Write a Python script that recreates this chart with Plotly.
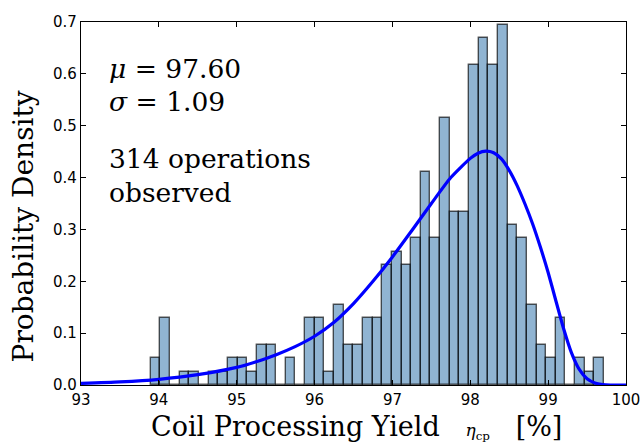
import plotly.graph_objects as go

# Histogram of coil processing yield (counts per bin, equal-width bins)
bin_start = 93.897
bin_width = 0.12385
counts = [2, 5, 0, 1, 1, 0, 1, 1, 2, 2, 1, 3, 3, 0, 2,
          0, 5, 5, 1, 6, 3, 3, 5, 5, 9, 10, 9, 11, 16, 11,
          20, 13, 13, 24, 26, 24, 27, 12, 11,
          6, 3, 2, 5, 0, 2, 1, 2]

# Summary statistics of the observed yields
mean_yield = 97.60
std_yield = 1.09

# Fitted density curve (yield %, probability density)
fit_x = [93.0, 93.5, 94.0, 94.5, 95.0, 95.25, 95.5, 95.75, 96.0, 96.25,
         96.5, 96.75, 97.0, 97.25, 97.5, 97.75, 98.0, 98.1, 98.2, 98.3,
         98.4, 98.5, 98.6, 98.7, 98.8, 98.9, 99.0, 99.1, 99.2, 99.3,
         99.4, 99.5, 99.6, 99.7, 99.8, 100.0]
fit_y = [0.003, 0.006, 0.011, 0.020, 0.034, 0.045, 0.058, 0.074, 0.094, 0.121,
         0.157, 0.200, 0.247, 0.298, 0.350, 0.400, 0.437, 0.447, 0.451, 0.448,
         0.436, 0.414, 0.385, 0.350, 0.311, 0.266, 0.217, 0.162, 0.108, 0.062,
         0.030, 0.012, 0.004, 0.001, 0.000, 0.000]

x_ticks = [93, 94, 95, 96, 97, 98, 99, 100]

n_obs = sum(counts)
centers = [bin_start + bin_width * (i + 0.5) for i in range(len(counts))]
density = [c / (n_obs * bin_width) for c in counts]

fig = go.Figure()
fig.add_trace(go.Bar(
    x=centers, y=density, width=bin_width,
    marker=dict(color="rgba(70,130,180,0.6)",
                line=dict(color="rgba(0,0,0,0.65)", width=1.4)),
    showlegend=False, hoverinfo="skip",
))
fig.add_trace(go.Scatter(
    x=fit_x, y=fit_y, mode="lines",
    line=dict(color="#0000ff", width=3.2, shape="spline", smoothing=0.6),
    showlegend=False,
))

serif = "DejaVu Serif"
ann_font = dict(family=serif, size=26.5, color="black")
lines = [
    (f"<i>μ</i> = {mean_yield:.2f}", 0.873),
    (f"<i>σ</i> = {std_yield:.2f}", 0.780),
    (f"{n_obs} operations", 0.625),
    ("observed", 0.529),
]
for text, yp in lines:
    fig.add_annotation(text=text, xref="paper", yref="paper", x=0.047, y=yp,
                       xanchor="left", yanchor="middle", showarrow=False,
                       font=ann_font)

# Axis titles
nb = "\u00a0"
fig.add_annotation(
    text=f"Coil Processing Yield{nb*3}<span style='font-size:17px'><i>η</i><sub>cp</sub></span>{nb*3}[%]",
    xref="paper", yref="paper", x=0.5046, y=-0.117, borderpad=0,
    xanchor="center", yanchor="middle", showarrow=False,
    font=dict(family=serif, size=27, color="black"))
fig.add_annotation(
    text="Probability Density", textangle=-90,
    xref="paper", yref="paper", x=-0.1064, y=0.437, borderpad=0,
    xanchor="center", yanchor="middle", showarrow=False,
    font=dict(family=serif, size=28, color="black"))

axis_common = dict(
    ticks="inside", ticklen=5, tickwidth=1, tickcolor="black",
    showline=True, linecolor="black", linewidth=1.3, mirror="ticks",
    showgrid=False, zeroline=False, automargin=False,
    tickfont=dict(family="DejaVu Sans", size=15, color="black"),
)

fig.update_layout(
    width=644, height=442,
    margin=dict(l=81, r=18, t=22, b=57),
    plot_bgcolor="white", paper_bgcolor="white",
    bargap=0,
    xaxis=dict(range=[93, 100], tickvals=x_ticks, ticklabelstandoff=1, **axis_common),
    yaxis=dict(range=[0, 0.7], dtick=0.1, tickformat=".1f", **axis_common),
)

fig.write_html("out.html")
